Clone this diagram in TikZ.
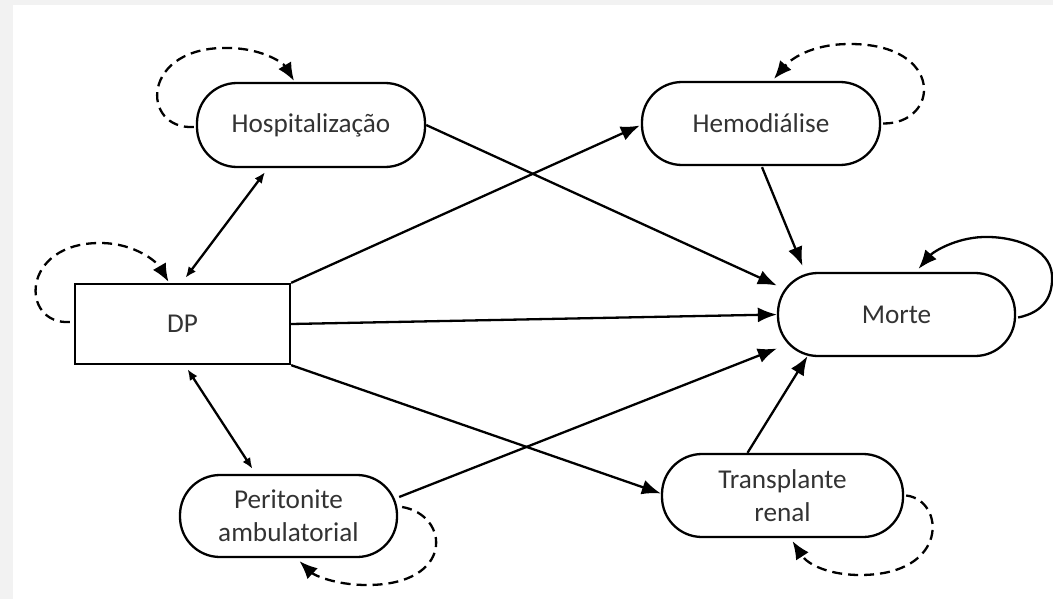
\documentclass[tikz,border=0pt]{standalone}
\usepackage{fontspec}
\setmainfont{Carlito}
\usetikzlibrary{arrows.meta,calc}
\definecolor{txt}{HTML}{333333}
\definecolor{frame}{HTML}{F2F2F2}
\begin{document}
\begin{tikzpicture}[x=0.5pt,y=-0.5pt,
  state/.style={draw, line width=1.15pt, rounded corners=20pt, fill=white, text=txt,
    font=\fontsize{13.6}{16.5}\selectfont, align=center, inner sep=0pt},
  box/.style={draw, line width=1.15pt, fill=white, text=txt,
    font=\fontsize{13.6}{16.5}\selectfont, inner sep=0pt},
  link/.style={line width=1.15pt, -{Latex[length=9.5pt,width=7.5pt]}},
  both/.style={line width=1.15pt, {Latex[length=5.5pt,width=4.5pt]}-{Latex[length=5.5pt,width=4.5pt]}},
  selfloop/.style={line width=1.15pt, dash pattern=on 5pt off 3pt, -{Latex[length=9pt,width=7.5pt]}},
]
% page background with light frame
\fill[frame] (0,0) rectangle (1053,599);
\fill[white] (13,5) rectangle (1053,599);
\useasboundingbox (0,0) rectangle (1053,599);

% states
\node[state, minimum width=114pt, minimum height=42pt] (hosp) at (311,125) {Hospitalização};
\node[box, minimum width=107.5pt, minimum height=40pt] (dp) at (182.5,324) {DP};
\node[state, minimum width=119pt, minimum height=41.5pt] (hemo) at (761,123.5) {Hemodiálise};
\node[state, minimum width=118.5pt, minimum height=41.5pt] (morte) at (896.5,314.5) {Morte};
\node[state, minimum width=108.5pt, minimum height=41pt] (peri) at (288.5,516) {Peritonite\\ambulatorial};
\node[state, minimum width=120.5pt, minimum height=41.5pt] (trans) at (782.5,495.5) {Transplante\\renal};

% transitions
\draw[both] ($(hosp.south)+(-46,4)$) -- ($(dp.north)+(3,-5)$);
\draw[both] ($(dp.south)+(5,4)$) -- ($(peri.north)+(-36,-5)$);
\draw[link] (dp.north east) -- ($(hemo.west)+(-1,2)$);
\draw[link] (hosp.east) -- ($(morte.west)+(0,-29)$);
\draw[link] (dp.east) -- (morte.west);
\draw[link] (dp.south east) -- ($(trans.west)+(0,-2)$);
\draw[link] ($(peri.east)+(1,-19)$) -- ($(morte.west)+(0,34)$);
\draw[link] ($(hemo.south)+(1,1)$) -- ($(morte.north)+(-94,-6)$);
\draw[link] ($(trans.north)+(-35,0)$) -- ($(morte.south)+(-89,-1)$);

% absorbing state
\draw[link] ($(morte.east)+(2,3)$) .. controls (1045,312) and (1053,295) .. (1052,275)
  .. controls (1050,247) and (1012,236) .. (983,237)
  .. controls (955,238) and (933,252) .. ($(morte.north)+(22,-3)$);

% remaining in the same state
\draw[selfloop] ($(hosp.west)+(-2,2)$) .. controls (140,130) and (140,45) .. (230,48)
  .. controls (265,49) and (284,64) .. ($(hosp.north)+(-17,-1)$);
\draw[selfloop] ($(dp.west)+(-4,-2)$) .. controls (20,325) and (20,243) .. (100,243)
  .. controls (135,243) and (157,262) .. ($(dp.north)+(-14,-1)$);
\draw[selfloop] ($(hemo.east)+(2,0)$) .. controls (940,124) and (945,44) .. (850,44)
  .. controls (810,44) and (790,60) .. ($(hemo.north)+(13,-2)$);
\draw[selfloop] ($(peri.east)+(4,-9)$) .. controls (450,515) and (455,585) .. (367,585)
  .. controls (335,585) and (314,575) .. ($(peri.south)+(11,3)$);
\draw[selfloop] ($(trans.east)+(2,0)$) .. controls (945,500) and (950,575) .. (860,575)
  .. controls (830,575) and (808,565) .. ($(trans.south)+(10,3)$);
\end{tikzpicture}
\end{document}
